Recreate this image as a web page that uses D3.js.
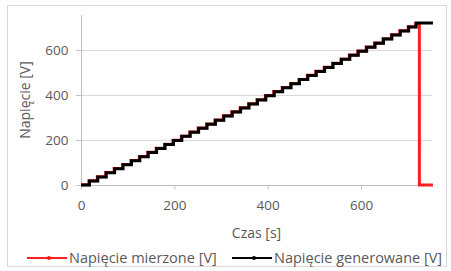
<!DOCTYPE html>
<html>
<head>
<meta charset="utf-8">
<script src="https://cdn.jsdelivr.net/npm/d3@7"></script>
<style>
  body { margin: 0; background: #fff; }
  text { font-family: "Open Sans", sans-serif; fill: #595959; }
</style>
</head>
<body>
<svg width="451" height="271"></svg>
<script>
// values
var genTime = [0, 18, 36, 54, 72, 90, 108, 126, 144, 162, 180, 198, 216, 234, 252, 270, 288, 306, 324, 342,
  360, 378, 396, 414, 432, 450, 468, 486, 504, 522, 540, 558, 576, 594, 612, 630, 648, 666, 684, 702, 718, 754];
var genVolt = [0, 18, 36, 54, 72, 90, 108, 126, 144, 162, 180, 198, 216, 234, 252, 270, 288, 306, 324, 342,
  360, 378, 396, 414, 432, 450, 468, 486, 504, 522, 540, 558, 576, 594, 612, 630, 648, 666, 684, 702, 720, 720];

var measTime = [0, 17, 35, 53, 71, 89, 107, 125, 143, 161, 179, 197, 215, 233, 251, 269, 287, 305, 323, 341,
  359, 377, 395, 413, 431, 449, 467, 485, 503, 521, 539, 557, 575, 593, 611, 629, 647, 665, 683, 701, 717, 725, 754];
var measVolt = [1, 19, 37, 55, 73, 91, 109, 127, 145, 163, 181, 199, 217, 235, 253, 271, 289, 307, 325, 343,
  361, 379, 397, 415, 433, 451, 469, 487, 505, 523, 541, 559, 577, 595, 613, 631, 649, 667, 685, 703, 716, 0, 0];

var xTicks = [0, 200, 400, 600];
var yTicks = [0, 200, 400, 600];
var legendNames = ["Napięcie mierzone [V]", "Napięcie generowane [V]"];

var svg = d3.select("svg");

// outer frame
svg.append("rect")
  .attr("x", 7.5).attr("y", 5.5)
  .attr("width", 439).attr("height", 261)
  .style("fill", "white")
  .style("stroke", "#d9d9d9");

var x = d3.scaleLinear().domain([0, 752]).range([81, 432]);
var y = d3.scaleLinear().domain([0, 755]).range([185, 15]);

// gridlines
svg.append("g")
  .selectAll("line")
  .data(yTicks.slice(1))
  .enter().append("line")
  .attr("x1", x(0) - 5).attr("x2", x(752))
  .attr("y1", function(d) { return Math.round(y(d)) + 0.5; })
  .attr("y2", function(d) { return Math.round(y(d)) + 0.5; })
  .style("stroke", "#d9d9d9");

// y axis
var yAxis = svg.append("g")
  .attr("transform", "translate(" + (Math.round(x(0)) + 0.5) + ",0)")
  .call(d3.axisLeft(y).tickValues(yTicks).tickSize(5).tickPadding(8));
yAxis.select(".domain").style("stroke", "#bfbfbf").attr("d", "M0," + y(755) + "V" + y(0));
yAxis.selectAll(".tick line").style("stroke", "#bfbfbf");
yAxis.selectAll("text").style("font-size", "13.5px").style("fill", "#595959");

// x axis
var xAxis = svg.append("g")
  .attr("transform", "translate(0," + (Math.round(y(0)) + 0.5) + ")")
  .call(d3.axisBottom(x).tickValues(xTicks).tickSize(4).tickPadding(11));
xAxis.select(".domain").style("stroke", "#bfbfbf").attr("d", "M" + x(0) + ",0H" + x(752));
xAxis.selectAll(".tick line").style("stroke", "#bfbfbf");
xAxis.selectAll("text").style("font-size", "13.5px").style("fill", "#595959");

// titles
svg.append("text")
  .attr("transform", "translate(30," + ((y(0) + y(755)) / 2) + ") rotate(-90)")
  .attr("text-anchor", "middle")
  .style("font-size", "14px")
  .text("Napięcie [V]");

svg.append("text")
  .attr("x", (x(0) + x(752)) / 2).attr("y", 238)
  .attr("text-anchor", "middle")
  .style("font-size", "14px")
  .text("Czas [s]");

// series
var stepLine = d3.line()
  .x(function(d) { return x(d[0]); })
  .y(function(d) { return y(d[1]); })
  .curve(d3.curveStepAfter);

var measData = d3.zip(measTime, measVolt);
var genData = d3.zip(genTime, genVolt);

svg.append("path")
  .datum(measData)
  .attr("d", stepLine)
  .style("fill", "none")
  .style("stroke", "#ff1f1f")
  .style("stroke-width", 3);

svg.append("path")
  .datum(genData)
  .attr("d", stepLine)
  .style("fill", "none")
  .style("stroke", "#000")
  .style("stroke-width", 3);

// legend
var legendColors = ["#ff1f1f", "#000"];
var legendX = [27, 232];
var legend = svg.append("g");
legendNames.forEach(function(name, i) {
  var g = legend.append("g").attr("transform", "translate(" + legendX[i] + ",258)");
  g.append("line").attr("x1", 0).attr("x2", 40).attr("y1", 0).attr("y2", 0)
    .style("stroke", legendColors[i]).style("stroke-width", 2);
  g.append("circle").attr("cx", 22).attr("cy", 0).attr("r", 2)
    .style("fill", legendColors[i]);
  g.append("text").attr("x", 42).attr("y", 5)
    .style("font-size", "14.5px")
    .text(name);
});
</script>
</body>
</html>
